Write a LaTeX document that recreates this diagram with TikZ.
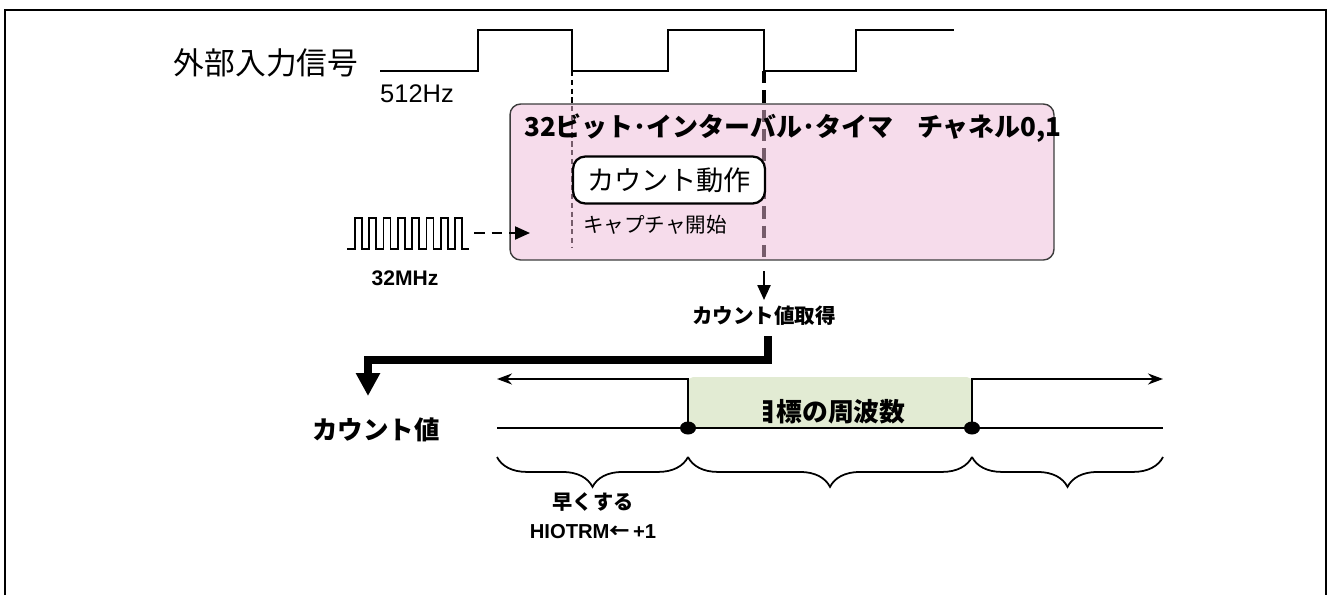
\documentclass[tikz,border=0pt]{standalone}
\usepackage{fontspec}
\setmainfont{Noto Sans CJK JP}
\newfontfamily\arialfont{Liberation Sans}
\usepackage{tikz}
\usetikzlibrary{arrows.meta, decorations.pathreplacing, shapes.geometric, calc}

\definecolor{timerpink}{RGB}{237,185,215}
\definecolor{goalgreen}{RGB}{226,235,211}
\definecolor{boxedge}{RGB}{60,60,60}

\begin{document}
\begin{tikzpicture}[x=0.02cm, y=-0.02cm,
    wave/.style={line width=1.4pt, line join=miter},
    capline/.style={line width=0.9pt, dash pattern=on 3pt off 2pt},
    getline/.style={line width=2.3pt, dash pattern=on 7pt off 4pt},
    fatline/.style={line width=4pt, -{Triangle[length=0.46cm, width=0.46cm]}},
    curly/.style={decorate, decoration={brace, mirror, amplitude=17pt}, line width=1pt}]

    \useasboundingbox (0,0) rectangle (1328,595);

    % Draw the open frame
    \draw[line width=1.4pt] (5,595) -- (5,10) -- (1326,10) -- (1326,595);

    % Draw the external input signal (512Hz)
    \node (sig) at (266,63) {\fontsize{17.5}{20}\selectfont 外部入力信号};
    \node[anchor=west] (hz) at (374,94) {\arialfont\fontsize{14.5}{16}\selectfont 512Hz};
    \draw[wave] (380,71) -- (478,71) -- (478,30) -- (572,30) -- (572,71) coordinate (fall1)
        -- (668,71) -- (668,30) -- (764,30) -- (764,71) coordinate (fall2)
        -- (856,71) -- (856,30) -- (954,30);

    % Draw the capture lines
    \draw[capline] (fall1) -- (572,247);
    \draw[getline] (fall2) -- (764,262);

    % Draw the timer block
    \node[draw=boxedge, line width=0.8pt, fill=timerpink, fill opacity=0.5, draw opacity=1,
        rounded corners=6pt, minimum width=10.88cm, minimum height=3.12cm] (timer) at (782,182) {};
    \node[anchor=west] (title) at (518,128) {\bfseries\fontsize{14.8}{17}\selectfont 32ビット･インターバル･タイマ\hspace{0.9em}チャネル0,1};
    \node[draw, fill=white, line width=1.3pt, rounded corners=7pt,
        minimum width=3.84cm, minimum height=0.94cm] (count) at (669,180) {\fontsize{15.5}{18}\selectfont カウント動作};
    \node[anchor=west] (capstart) at (577,225) {\fontsize{11.7}{14}\selectfont キャプチャ開始};

    % Draw the 32MHz clock
    \draw[wave, line width=1pt] (347,249) -- (355,249)
        \foreach \k in {1,...,8} { -- ++(0,-31) -- ++(7,0) -- ++(0,31) -- ++(7.3,0) };
    \coordinate (clkend) at (474,233);
    \coordinate (clkin) at (530,233);
    \draw[line width=1.2pt, dash pattern=on 6pt off 4pt, -{Triangle[length=0.3cm, width=0.26cm]}] (clkend) -- (clkin);
    \node (mhz) at (405,278) {\arialfont\bfseries\fontsize{12}{14}\selectfont 32MHz};

    % Count value capture
    \node (get) at (764,316) {\bfseries\fontsize{11.7}{14}\selectfont カウント値取得};
    \draw[line width=1.3pt, -{Triangle[length=0.3cm, width=0.26cm]}] (764,271) -- (get.north);
    \coordinate (getout) at (768,336);
    \coordinate (bend) at (368,360);
    \coordinate (cntin) at (368,396);
    \draw[fatline] (getout) |- (bend) -- (cntin);
    \node (cnt) at (376,430) {\bfseries\fontsize{14.5}{17}\selectfont カウント値};

    % Target frequency band
    \fill[goalgreen, rounded corners=3pt] (688,377) rectangle (972,428);
    \begin{scope}
        \clip (763,380) rectangle (972,428);
        \node (goal) at (828,412) {\bfseries\fontsize{14.7}{17}\selectfont 目標の周波数};
    \end{scope}
    \coordinate (bl) at (497,428);
    \coordinate (br) at (1163,428);
    \coordinate (tl) at (497,379);
    \coordinate (tr) at (1163,379);
    \coordinate (gl) at (688,379);
    \coordinate (gr) at (972,379);
    \draw[line width=1.2pt] (bl) -- (br);
    \draw[line width=1.2pt, -{Stealth[length=0.3cm, width=0.22cm]}] (688,428) -- (gl) -- (tl);
    \draw[line width=1.2pt, -{Stealth[length=0.3cm, width=0.22cm]}] (972,428) -- (gr) -- (tr);
    \node[fill, ellipse, inner sep=0pt, minimum width=0.32cm, minimum height=0.26cm] (d1) at (688,428) {};
    \node[fill, ellipse, inner sep=0pt, minimum width=0.32cm, minimum height=0.26cm] (d2) at (972,428) {};

    % Braces and labels
    \draw[curly] (497,457) -- (688,457);
    \draw[curly] (688,457) -- (972,457);
    \draw[curly] (972,457) -- (1163,457);
    \node (faster) at (593,502) {\bfseries\fontsize{11.5}{14}\selectfont 早くする};
    \node (hiotrm) at (593,532) {\bfseries\fontsize{11.5}{14}\selectfont{\arialfont HIOTRM}←\,{\arialfont +1}};

\end{tikzpicture}
\end{document}
